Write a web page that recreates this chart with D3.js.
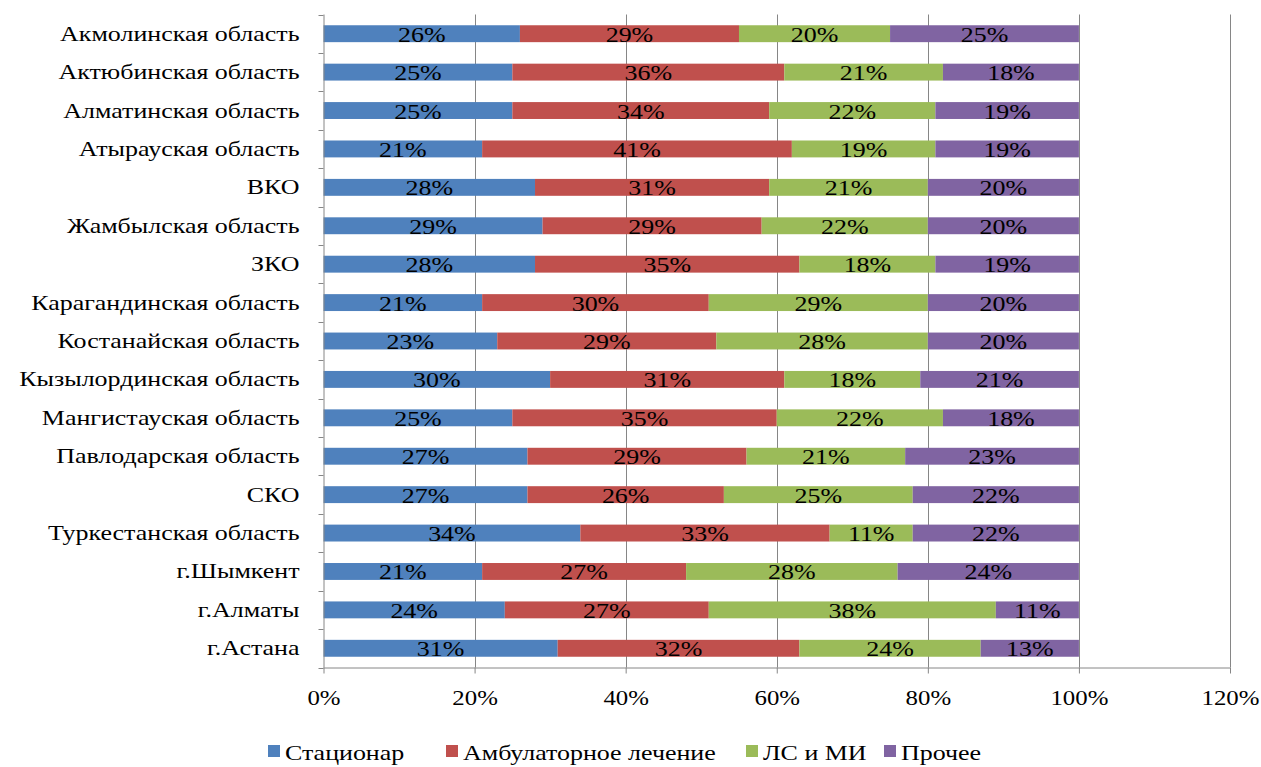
<!DOCTYPE html>
<html><head><meta charset="utf-8">
<script src="https://cdn.jsdelivr.net/npm/d3@7"></script>
<style>body{margin:0;background:#fff;}svg{display:block;}</style>
</head><body><svg id="c" width="1261" height="767"></svg>
<script>
const categories = ["Акмолинская область","Актюбинская область","Алматинская область","Атырауская область","ВКО","Жамбылская область","ЗКО","Карагандинская область","Костанайская область","Кызылординская область","Мангистауская область","Павлодарская область","СКО","Туркестанская область","г.Шымкент","г.Алматы","г.Астана"];
const seriesNames = ["Стационар","Амбулаторное лечение","ЛС и МИ","Прочее"];
const stationar = [26,25,25,21,28,29,28,21,23,30,25,27,27,34,21,24,31];
const ambulatory = [29,36,34,41,31,29,35,30,29,31,35,29,26,33,27,27,32];
const drugs = [20,21,22,19,21,22,18,29,28,18,22,21,25,11,28,38,24];
const other = [25,18,19,19,20,20,19,20,20,21,18,23,22,22,24,11,13];
const xTicks = [0,20,40,60,80,100,120];
const colors = ["#4F81BD","#C0504D","#9BBB59","#8064A2"];

(function(){
const FONT = "'Liberation Serif', 'Times New Roman', serif";
const FS = 22, SX = 1.18;
const svg = d3.select("#c");
const pL = 323.5, pR = 1230, pT = 14.5, pB = 667.5;
const x = d3.scaleLinear().domain([0,120]).range([pL,pR]);
const y = d3.scaleBand().domain(categories).range([pT,pB]).paddingInner(0.56).paddingOuter(0.28);
const yb = d3.scaleBand().domain(categories).range([pT,pB]);

function txt(sel){ return sel.style("font-family",FONT).style("font-size",FS+"px").attr("fill","#000"); }

svg.append("g").selectAll("line").data(xTicks.filter(d=>d>0)).join("line")
  .attr("x1",d=>Math.round(x(d))+0.5).attr("x2",d=>Math.round(x(d))+0.5)
  .attr("y1",pT).attr("y2",pB).attr("stroke","#868686").attr("stroke-width",1);

const data = [stationar, ambulatory, drugs, other];
const stacked = categories.map((c,i)=>{
  let acc=0; return data.map((s,k)=>{const v=s[i]; const o={cat:c,k,v,x0:acc,x1:acc+v}; acc+=v; return o;});
}).flat();

svg.append("g").selectAll("rect").data(stacked).join("rect")
  .attr("x",d=>x(d.x0)).attr("width",d=>x(d.x1)-x(d.x0))
  .attr("y",d=>y(d.cat)).attr("height",y.bandwidth())
  .attr("fill",d=>colors[d.k]);

txt(svg.append("g").selectAll("text").data(stacked).join("text")
  .attr("transform",d=>`translate(${(x(d.x0)+x(d.x1))/2},${y(d.cat)+y.bandwidth()/2+8}) scale(${SX},1)`)
  .attr("text-anchor","middle")
  .text(d=>d.v+"%"));

const ya = svg.append("g").attr("transform",`translate(${pL},0)`)
  .call(d3.axisLeft(yb).tickSize(0).tickPadding(24));
ya.select(".domain").attr("stroke","#868686").attr("d",`M0.5,${pT}V${pB}`);
txt(ya.selectAll(".tick text")).attr("x",0).attr("dy",null).attr("y",0)
  .attr("transform",`translate(-24,7) scale(${SX},1)`);
const bounds = categories.map(c=>yb(c)).concat([pB]);
svg.append("g").selectAll("line").data(bounds).join("line")
  .attr("x1",pL-5).attr("x2",pL).attr("y1",d=>Math.round(d)+0.5).attr("y2",d=>Math.round(d)+0.5)
  .attr("stroke","#868686");

const xa = svg.append("g").attr("transform",`translate(0,${pB})`)
  .call(d3.axisBottom(x).tickValues(xTicks).tickFormat(d=>d+"%").tickSize(6).tickPadding(16));
xa.select(".domain").attr("stroke","#868686").attr("d",`M${pL},0.5H${pR}`);
xa.selectAll(".tick line").attr("stroke","#868686");
txt(xa.selectAll(".tick text")).attr("y",0).attr("dy",null).attr("transform",`translate(0,37) scale(1.13,1)`);

const legX = [268, 446, 746, 884];
const lg = svg.append("g").selectAll("g").data(seriesNames).join("g")
  .attr("transform",(d,i)=>`translate(${legX[i]},745)`);
lg.append("rect").attr("width",12).attr("height",12).attr("y",0).attr("fill",(d,i)=>colors[i]);
txt(lg.append("text").attr("transform",`translate(17,15) scale(${SX},1)`).text(d=>d));
})();
</script></body></html>
